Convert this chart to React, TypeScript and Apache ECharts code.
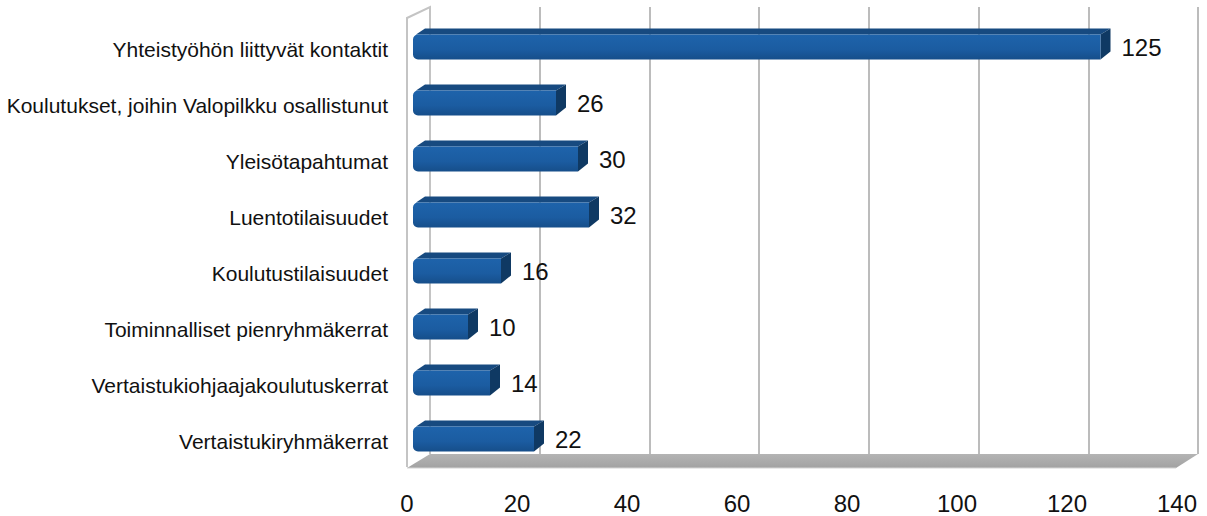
import React, { useEffect, useRef } from "react";
import * as echarts from "echarts";

const categories = [
  "Yhteistyöhön liittyvät kontaktit",
  "Koulutukset, joihin Valopilkku osallistunut",
  "Yleisötapahtumat",
  "Luentotilaisuudet",
  "Koulutustilaisuudet",
  "Toiminnalliset pienryhmäkerrat",
  "Vertaistukiohjaajakoulutuskerrat",
  "Vertaistukiryhmäkerrat",
];
const values = [125, 26, 30, 32, 16, 10, 14, 22];
const xTicks = { min: 0, max: 140, interval: 20 };

const FONT = "Liberation Sans, Arial, Helvetica, sans-serif";

export default function App() {
  const ref = useRef<HTMLDivElement>(null);
  useEffect(() => {
    if (!ref.current) return;
    const chart = echarts.init(ref.current, null, { renderer: "svg" });
    const DX = 10;
    const DY = 6;
    const H = 25;
    const option: any = {
      animation: false,
      backgroundColor: "#ffffff",
      graphic: [
        // floor
        {
          type: "polygon",
          z: 0,
          shape: { points: [[430, 454], [1198, 454], [1176, 468], [407, 468]] },
          style: {
            fill: new echarts.graphic.LinearGradient(0, 0, 0, 1, [
              { offset: 0, color: "#b4b4b4" },
              { offset: 1, color: "#a2a2a2" },
            ]),
          },
        },
        {
          type: "line",
          z: 1,
          shape: { x1: 407, y1: 468, x2: 1176, y2: 468 },
          style: { stroke: "#d4d4d4", lineWidth: 1 },
        },
        // left wall
        {
          type: "polyline",
          z: 1,
          shape: { points: [[407, 467], [407, 18], [430, 7], [430, 454]] },
          style: { stroke: "#c4c4c4", lineWidth: 2, fill: null },
        },
      ],
      grid: [
        { left: 430, width: 768, top: 7, height: 447 },
        { left: 407, width: 770, top: 21, height: 448 },
      ],
      xAxis: [
        {
          gridIndex: 0,
          type: "value",
          min: xTicks.min,
          max: xTicks.max,
          interval: xTicks.interval,
          axisLine: { show: false },
          axisTick: { show: false },
          axisLabel: { show: false },
          splitLine: { show: true, lineStyle: { color: "#bcbcbc", width: 2 } },
        },
        {
          gridIndex: 1,
          type: "value",
          min: xTicks.min,
          max: xTicks.max,
          interval: xTicks.interval,
          axisLine: { show: false },
          axisTick: { show: false },
          splitLine: { show: false },
          axisLabel: {
            show: true,
            margin: 22,
            color: "#111111",
            fontSize: 24,
            fontFamily: FONT,
          },
        },
      ],
      yAxis: [
        {
          gridIndex: 0,
          type: "category",
          data: categories,
          inverse: true,
          show: false,
        },
        {
          gridIndex: 1,
          type: "category",
          data: categories,
          inverse: true,
          axisLine: { show: false },
          axisTick: { show: false },
          splitLine: { show: false },
          axisLabel: {
            margin: 19,
            color: "#111111",
            fontSize: 21,
            fontFamily: FONT,
          },
        },
      ],
      series: [
        {
          type: "custom",
          xAxisIndex: 1,
          yAxisIndex: 1,
          z: 5,
          data: values.map((v, i) => [v, i]),
          encode: { x: 0, y: 1 },
          renderItem: (params: any, api: any) => {
            const v = api.value(0);
            const idx = api.value(1);
            const p0 = api.coord([0, idx]);
            const p1 = api.coord([v, idx]);
            const x0 = p0[0] + 6;
            const x1 = p1[0] + 6;
            const yc = p0[1] - 2;
            const yt = yc - H / 2;
            const yb = yc + H / 2;
            return {
              type: "group",
              children: [
                {
                  type: "polygon",
                  shape: {
                    points: [
                      [x0 + 3, yt],
                      [x0 + DX + 2, yt - DY],
                      [x1 + DX, yt - DY],
                      [x1, yt],
                    ],
                  },
                  style: { fill: "#174a80" },
                },
                {
                  type: "polygon",
                  shape: {
                    points: [
                      [x1, yt],
                      [x1 + DX, yt - DY],
                      [x1 + DX, yb - DY - 2],
                      [x1, yb],
                    ],
                  },
                  style: { fill: "#0f3963" },
                },
                {
                  type: "rect",
                  shape: { x: x0, y: yt, width: x1 - x0, height: H, r: [5, 0, 0, 5] },
                  style: {
                    fill: new echarts.graphic.LinearGradient(0, 0, 0, 1, [
                      { offset: 0, color: "#1e63ab" },
                      { offset: 0.6, color: "#1b5ca1" },
                      { offset: 1, color: "#164e8a" },
                    ]),
                  },
                },
                {
                  type: "text",
                  style: {
                    text: String(v),
                    x: x1 + DX + 11,
                    y: yc,
                    verticalAlign: "middle",
                    align: "left",
                    fontSize: 24,
                    fontFamily: FONT,
                    fill: "#111111",
                  },
                },
              ],
            };
          },
        },
      ],
    };
    chart.setOption(option);
    return () => chart.dispose();
  }, []);
  return (
    <div
      ref={ref}
      style={{ position: "absolute", left: 0, top: 0, width: 1207, height: 516 }}
    />
  );
}
